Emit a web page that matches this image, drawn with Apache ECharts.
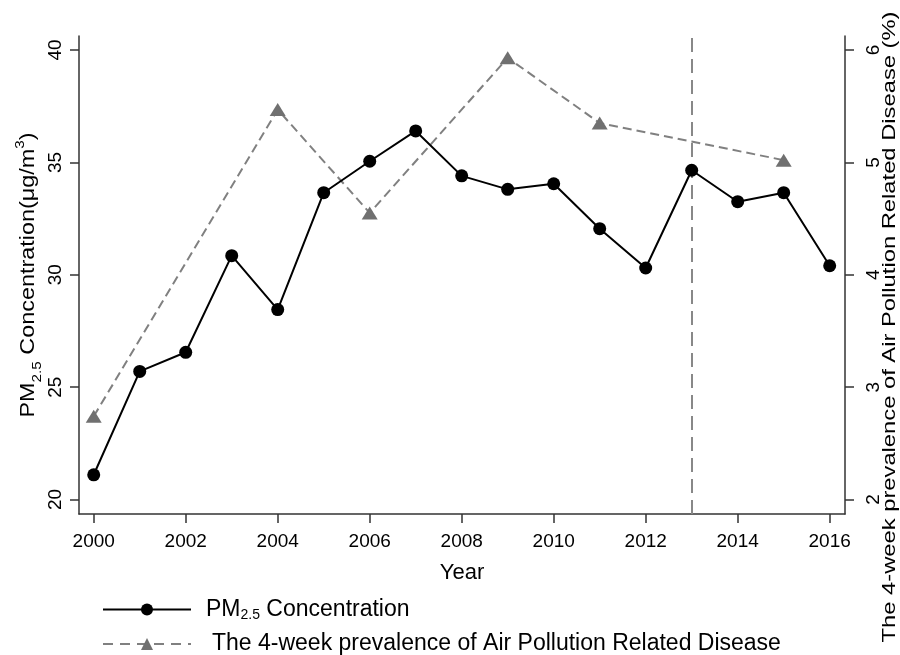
<!DOCTYPE html>
<html><head><meta charset="utf-8">
<script src="https://cdn.jsdelivr.net/npm/echarts@6/dist/echarts.min.js"></script>
<style>html,body{margin:0;padding:0;background:#fff}#c{width:900px;height:655px}</style>
</head><body><div id="c"></div>
<script>
const years = [2000,2001,2002,2003,2004,2005,2006,2007,2008,2009,2010,2011,2012,2013,2014,2015,2016];
const pm25 = [21.1,25.7,26.55,30.85,28.45,33.65,35.05,36.4,34.4,33.8,34.05,32.05,30.3,34.65,33.25,33.65,30.4];
const prevYears = [2000,2004,2006,2009,2011,2015];
const prevalence = [2.74,5.47,4.55,5.93,5.35,5.02];
const xTicks = [2000,2002,2004,2006,2008,2010,2012,2014,2016];
const leftTicks = [20,25,30,35,40];
const rightTicks = [2,3,4,5,6];
const policyYear = 2013;
const pmName = 'PM2.5 Concentration';
const prevName = 'The 4-week prevalence of Air Pollution Related Disease';

const FONT = 'Liberation Sans, Arial, Helvetica, sans-serif';
const chart = echarts.init(document.getElementById('c'), null, {renderer: 'canvas'});

const axisLineStyle = {color: '#333', width: 1.5};
const plain = v => String(v);
const option = {
  animation: false,
  backgroundColor: '#fff',
  textStyle: {fontFamily: FONT, color: '#000'},
  grid: {left: 79, right: 55, top: 36, bottom: 141, containLabel: false},
  xAxis: {
    type: 'value', min: 1999.68, max: 2016.333,
    name: 'Year', nameLocation: 'middle', nameGap: 48,
    nameTextStyle: {fontSize: 22, color: '#000', fontFamily: FONT},
    axisLine: {show: true, onZero: false, lineStyle: axisLineStyle},
    axisTick: {show: true, length: 9, lineStyle: axisLineStyle, customValues: xTicks},
    axisLabel: {fontSize: 19, color: '#000', margin: 18, fontFamily: FONT, customValues: xTicks, formatter: plain},
    splitLine: {show: false}
  },
  yAxis: [{
    type: 'value', position: 'left', min: 19.355, max: 40.623,
    axisLine: {show: true, onZero: false, lineStyle: axisLineStyle},
    axisTick: {show: true, length: 9, lineStyle: axisLineStyle, customValues: leftTicks},
    axisLabel: {fontSize: 19, color: '#000', rotate: 90, margin: 14, fontFamily: FONT, customValues: leftTicks, formatter: plain},
    splitLine: {show: false}
  }, {
    type: 'value', position: 'right', min: 1.871, max: 6.1246,
    axisLine: {show: true, onZero: false, lineStyle: axisLineStyle},
    axisTick: {show: true, length: 9, lineStyle: axisLineStyle, customValues: rightTicks},
    axisLabel: {fontSize: 19, color: '#000', rotate: 90, margin: 19, fontFamily: FONT, customValues: rightTicks, formatter: plain},
    splitLine: {show: false}
  }],
  legend: [{
    data: [pmName], orient: 'vertical', left: 102, top: 598, padding: 0,
    itemWidth: 88, itemHeight: 15,
    formatter: () => '{a|PM}{s|2.5}{a| Concentration}',
    textStyle: {padding: [0, 0, 0, 10], fontFamily: FONT, color: '#000',
      rich: {a: {fontSize: 23, lineHeight: 26, fontFamily: FONT, color: '#000'},
             s: {fontSize: 14, lineHeight: 20, verticalAlign: 'bottom', fontFamily: FONT, color: '#000'}}}
  }, {
    data: [prevName], orient: 'vertical', left: 102, top: 631, padding: 0,
    itemWidth: 88, itemHeight: 15,
    lineStyle: {type: [10, 7]},
    textStyle: {padding: [0, 0, 0, 16], fontSize: 23, lineHeight: 26, fontFamily: FONT, color: '#000'}
  }],
  graphic: [{
    type: 'text', x: 28.5, y: 275, rotation: Math.PI / 2, scaleX: 1.17, silent: true,
    style: {
      text: '{a|PM}{s|2.5}{a| Concentration(μg/m}{p|3}{a|)}',
      align: 'center', verticalAlign: 'middle', textAlign: 'center', textVerticalAlign: 'middle',
      fill: '#000', font: '20px ' + FONT,
      rich: {
        a: {fontSize: 20, lineHeight: 30, fontFamily: FONT, fill: '#000', color: '#000'},
        s: {fontSize: 13, lineHeight: 22, verticalAlign: 'bottom', fontFamily: FONT, fill: '#000', color: '#000'},
        p: {fontSize: 13, lineHeight: 10, verticalAlign: 'top', fontFamily: FONT, fill: '#000', color: '#000'}
      }
    }
  }, {
    type: 'text', x: 890, y: 327, rotation: Math.PI / 2, scaleX: 1.25, silent: true,
    style: {
      text: 'The 4-week prevalence of Air Pollution Related Disease (%)',
      align: 'center', verticalAlign: 'middle', textAlign: 'center', textVerticalAlign: 'middle',
      fill: '#000', font: '19px ' + FONT
    }
  }],
  series: [{
    name: pmName, type: 'line', xAxisIndex: 0, yAxisIndex: 0,
    data: years.map((y, i) => [y, pm25[i]]),
    symbol: 'circle', symbolSize: 13, z: 3,
    itemStyle: {color: '#000'},
    lineStyle: {color: '#000', width: 2},
    markLine: {
      silent: true, symbol: ['none', 'none'], z: 1,
      label: {show: false},
      lineStyle: {color: '#888', type: [14, 7], width: 2},
      emphasis: {disabled: true},
      data: [{xAxis: policyYear}]
    }
  }, {
    name: prevName, type: 'line', xAxisIndex: 0, yAxisIndex: 1,
    data: prevYears.map((y, i) => [y, prevalence[i]]),
    symbol: 'triangle', symbolSize: [16, 13], z: 2,
    itemStyle: {color: '#707070'},
    lineStyle: {color: '#808080', width: 2, type: [9, 5]}
  }]
};
chart.setOption(option);
</script>
</body></html>
